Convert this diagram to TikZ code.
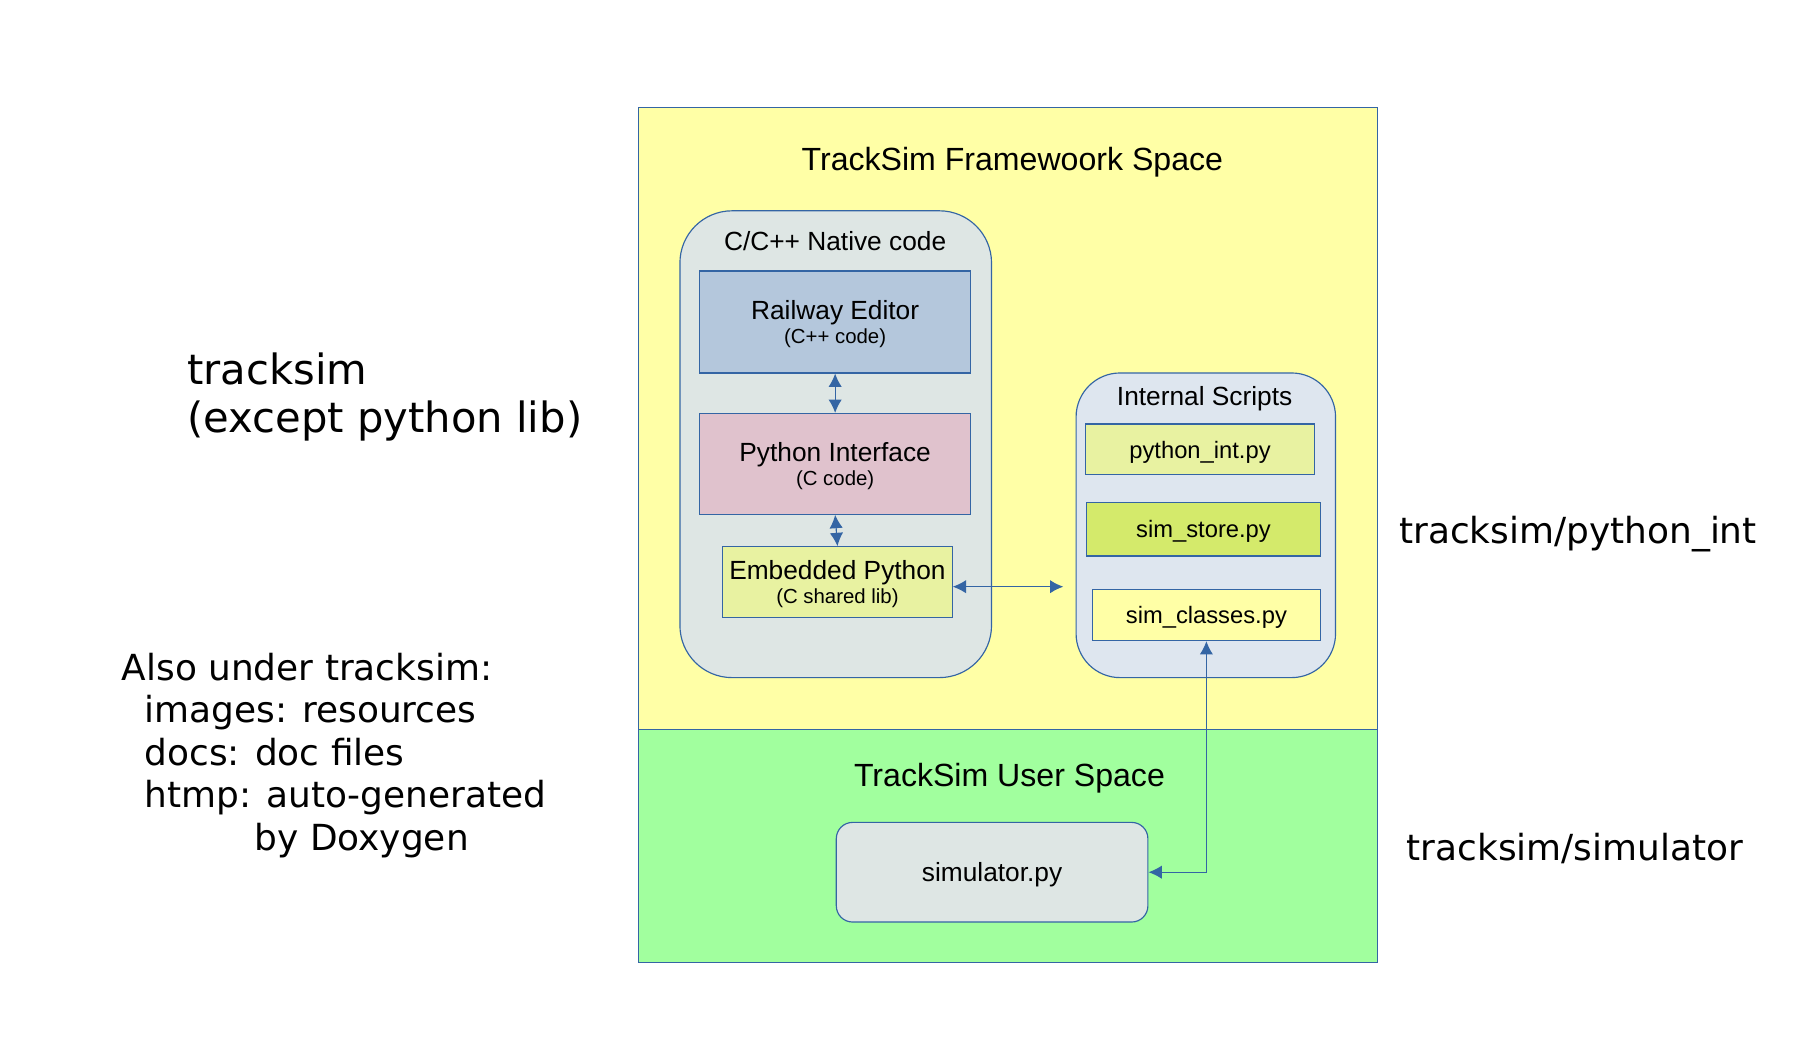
\documentclass[tikz,border=0pt]{standalone}
\usepackage{fontspec}
\setmainfont{Liberation Sans}
\newfontfamily\dejavu{DejaVu Sans}
\usetikzlibrary{arrows.meta}
\definecolor{edgeblue}{RGB}{52,101,164}
\definecolor{frameworkfill}{RGB}{255,255,166}
\definecolor{userfill}{RGB}{161,255,158}
\definecolor{nativefill}{RGB}{222,230,228}
\definecolor{scriptsfill}{RGB}{222,230,239}
\definecolor{railfill}{RGB}{180,199,220}
\definecolor{pyiffill}{RGB}{224,194,205}
\definecolor{embfill}{RGB}{232,242,161}
\definecolor{storefill}{RGB}{212,234,107}
\newcommand{\subtext}[1]{{\fontsize{17.6}{21}\selectfont #1}}
\begin{document}
\begin{tikzpicture}
[x=1pt,y=-1pt,
  spacedecorate/.style={draw=edgeblue,line width=1pt,inner sep=0pt,minimum width=638pt},%
  groupdecorate/.style={draw=edgeblue,line width=1pt,inner sep=0pt,fill=#1},%
  boxdecorate/.style={draw=edgeblue,line width=1pt,inner sep=0pt,align=center,text depth=0pt,
    font=\fontsize{22.7}{20}\selectfont},%
  filedecorate/.style={boxdecorate,font=\fontsize{20.5}{24}\selectfont},%
  titledecorate/.style={inner sep=0pt,font=\fontsize{22.7}{27}\selectfont},%
  bigtitledecorate/.style={inner sep=0pt,anchor=base,font=\fontsize{27.7}{32}\selectfont},%
  sidedecorate/.style={inner sep=0pt,anchor=base west,align=left,font=\dejavu\fontsize{31}{36.7}\selectfont},%
  linedecorate/.style={{Latex[length=11.5pt,width=11.5pt]}-{Latex[length=11.5pt,width=11.5pt]},
    draw=edgeblue,line width=1pt}]
\useasboundingbox (0,0) rectangle (1567.8,911.6);
%% spaces
\node (fw) at (870,361.5) [spacedecorate,fill=frameworkfill,minimum height=537pt] {};
\node (user) at (870,730.5) [spacedecorate,fill=userfill,minimum height=201pt] {};
\node (fwtitle) at (874,146.8) [bigtitledecorate] {TrackSim Framewoork Space};
\node (usertitle) at (871.5,678.7) [bigtitledecorate] {TrackSim User Space};
%% groups
\node (native) at (721.5,383.5) [groupdecorate=nativefill,rounded corners=45pt,
  minimum width=269pt,minimum height=403pt] {};
\node (scripts) at (1041,453.5) [groupdecorate=scriptsfill,rounded corners=38pt,
  minimum width=224pt,minimum height=263pt] {};
\node (sim) at (856.5,753) [groupdecorate=nativefill,rounded corners=14pt,text depth=0pt,
  minimum width=269pt,minimum height=86pt,font=\fontsize{22.7}{27}\selectfont] {simulator.py};
\node (nativetitle) at (721,215.9) [titledecorate,anchor=base] {C/C++ Native code};
\node (scriptstitle) at (1040,342) [titledecorate,text depth=0pt] {Internal Scripts};
%% native code boxes
\node (rail) at (721,278) [boxdecorate,fill=railfill,minimum width=234pt,minimum height=88pt]
  {Railway Editor\\\subtext{(C++ code)}};
\node (pyif) at (721,400.5) [boxdecorate,fill=pyiffill,minimum width=234pt,minimum height=87pt]
  {Python Interface\\\subtext{(C code)}};
\node (emb) at (723,502.5) [boxdecorate,fill=embfill,minimum width=198pt,minimum height=61pt]
  {Embedded Python\\\subtext{(C shared lib)}};
%% script files
\foreach \nodename/\x/\y/\w/\h/\col/\txt in {pyint/1036/388/198/44/embfill/python\_int.py,
    store/1039/457/202/46/storefill/sim\_store.py,
    classes/1041.5/531/197/44/frameworkfill/sim\_classes.py} {
  \node (\nodename) at (\x,\y) [filedecorate,fill=\col,minimum width=\w pt,minimum height=\h pt] {\txt};
}
\coordinate (scriptsin) at (918,506.5);
%% links
\path
\foreach \startnode/\endnode in {rail.south/pyif.north, pyif.south/emb.north, emb.east |- scriptsin/scriptsin} {
  (\startnode) edge[linedecorate] (\endnode)
};
\draw[linedecorate] (sim.east) -| (classes.south);
%% side notes
\node (pyintdir) at (1207.8,469.1) [sidedecorate] {tracksim/python\_int};
\node (simdir) at (1214.2,742.9) [sidedecorate] {tracksim/simulator};
\node (rootdir) at (161.6,373.5) [sidedecorate,font=\dejavu\fontsize{36}{41.7}\selectfont]
  {tracksim\\(except python lib)};
\node (others) at (105,734) [sidedecorate]
  {Also under tracksim:\\\hspace*{19.6pt}images: resources\\\hspace*{19.6pt}docs: doc files\\
   \hspace*{19.6pt}htmp: auto-generated\\\hspace*{114.6pt}by Doxygen};
\end{tikzpicture}
\end{document}
